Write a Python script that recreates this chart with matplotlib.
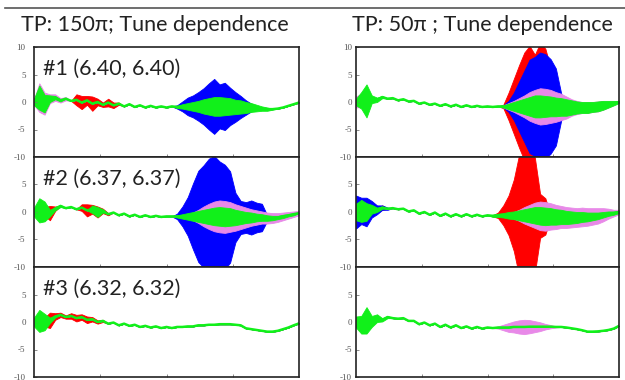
import matplotlib.pyplot as plt
import numpy as np
from matplotlib.lines import Line2D

# position along the run (% of full length), one sample every 2 %
pos = np.arange(0, 101, 2)

titles = ['TP: 150\u03c0; Tune dependence', 'TP: 50\u03c0 ; Tune dependence']
labels = ['#1 (6.40, 6.40)', '#2 (6.37, 6.37)', '#3 (6.32, 6.32)']

# ---- centre lines (51 values, 0..100 %) ----
L1_centre = [0.0, 0.8, -0.3, 0.6, 0.8, 0.3, 0.6, 0.2, 0.4, -0.1,
             0.3, -0.3, 0.0, -0.5, -0.1, -0.6, -0.3, -0.8, -0.4, -0.9,
             -0.6, -1.0, -0.7, -1.0, -0.8, -1.0, -0.8, -0.9, -0.8, -0.8,
             -0.8, -0.8, -0.8, -0.8, -0.8, -0.8, -0.8, -0.8, -0.9, -0.9,
             -1.0, -1.0, -1.1, -1.2, -1.3, -1.3, -1.2, -1.0, -0.7, -0.4,
             -0.1]
L2_centre = [0.0, 0.3, 0.1, -0.2, 0.6, 1.1, 0.7, 0.9, 0.5, 0.8,
             0.3, 0.5, 0.0, 0.2, -0.4, -0.1, -0.6, -0.3, -0.8, -0.5,
             -0.9, -0.6, -0.9, -0.7, -0.9, -0.8, -0.8, -0.8, -0.8, -0.8,
             -0.8, -0.8, -0.8, -0.8, -0.8, -0.8, -0.9, -0.9, -1.0, -1.0,
             -1.0, -1.0, -1.0, -1.0, -1.1, -1.1, -1.0, -0.8, -0.6, -0.4,
             -0.2]
L3_centre = [0.0, 0.2, 0.0, 0.3, 1.0, 1.3, 0.9, 1.1, 0.7, 0.9,
             0.4, 0.5, 0.0, 0.2, -0.3, -0.1, -0.6, -0.3, -0.7, -0.5,
             -0.9, -0.7, -1.0, -0.8, -1.1, -0.9, -1.1, -0.9, -0.9, -0.8,
             -0.8, -0.6, -0.6, -0.5, -0.5, -0.4, -0.4, -0.4, -0.5, -0.6,
             -1.15, -1.3, -1.45, -1.6, -1.75, -1.75, -1.6, -1.3, -1.0, -0.6,
             -0.25]
R1_centre = [0.0, 0.3, 0.2, 0.5, 0.4, 0.9, 0.6, 0.7, 0.3, 0.5,
             0.1, 0.2, -0.3, -0.1, -0.5, -0.3, -0.7, -0.4, -0.8, -0.5,
             -0.9, -0.6, -0.9, -0.7, -0.9, -0.8, -0.9, -0.8, -0.8, -0.8,
             -0.8, -0.8, -0.8, -0.8, -0.8, -0.8, -0.8, -0.8, -0.9, -0.9,
             -1.0, -1.0, -1.0, -1.0, -1.0, -0.9, -0.8, -0.6, -0.4, -0.2,
             0.0]
R2_centre = [0.0, 0.2, 0.0, 0.5, 0.4, 0.8, 0.6, 0.7, 0.5, 0.6,
             0.1, 0.3, -0.3, 0.0, -0.5, -0.1, -0.7, -0.3, -0.8, -0.4,
             -0.8, -0.4, -0.8, -0.5, -0.8, -0.6, -0.7, -0.6, -0.6, -0.6,
             -0.6, -0.6, -0.6, -0.6, -0.6, -0.7, -0.8, -0.8, -0.9, -0.9,
             -1.0, -1.0, -1.0, -0.9, -0.9, -0.8, -0.7, -0.5, -0.3, -0.2,
             0.0]
R3_centre = [0.0, -0.5, 0.3, 0.1, 0.7, 0.4, 0.9, 0.7, 0.6, 0.7,
             0.2, 0.2, -0.4, -0.1, -0.6, -0.3, -0.9, -0.5, -1.0, -0.6,
             -1.1, -0.8, -1.2, -0.9, -1.2, -1.0, -1.1, -1.0, -1.0, -1.0,
             -0.9, -0.9, -0.9, -0.85, -0.85, -0.85, -0.85, -0.85, -0.9, -0.9,
             -1.0, -1.15, -1.3, -1.5, -1.75, -1.75, -1.7, -1.6, -1.45, -1.2,
             -0.7]

# ---- half widths of the oscillation envelopes ({position %: half width}) ----
L1_red = {2: 1.2, 4: 1.0, 6: 0.3, 16: 1.0, 18: 1.2, 20: 0.8, 22: 1.3, 24: 0.6,
          26: 0.4, 28: 0.7, 30: 0.5, 32: 0.2, 56: 0.6, 58: 1.0, 60: 1.4, 62: 1.8,
          64: 2.3, 66: 2.9, 68: 3.5, 70: 2.8, 72: 3.0, 74: 2.4, 76: 1.9, 78: 1.4,
          80: 0.9, 82: 0.5, 84: 0.2}
L1_blue = {54: 0.3, 56: 0.9, 58: 1.6, 60: 2.0, 62: 2.6, 64: 3.3, 66: 4.2, 68: 5.0,
           70: 4.0, 72: 4.3, 74: 3.4, 76: 2.7, 78: 2.0, 80: 1.3, 82: 0.7, 84: 0.4,
           86: 0.1}
L1_violet = {0: 0.5, 2: 2.6, 4: 2.0, 6: 0.8, 8: 0.6, 10: 0.4, 12: 0.3}
L1_green = {0: 0.6, 2: 2.2, 4: 1.6, 6: 0.6, 8: 0.3, 10: 0.2, 54: 0.2, 56: 0.4,
            58: 0.6, 60: 0.8, 62: 1.0, 64: 1.3, 66: 1.5, 68: 1.7, 70: 1.7, 72: 1.6,
            74: 1.5, 76: 1.3, 78: 1.2, 80: 1.0, 82: 0.8, 84: 0.6, 86: 0.4, 88: 0.3,
            90: 0.1}

L2_red = {4: 0.8, 6: 1.3, 8: 0.4, 18: 0.6, 20: 1.1, 22: 0.8, 24: 1.0, 26: 0.4,
          28: 0.2, 60: 4.0, 64: 7.0, 68: 8.0, 72: 7.0, 76: 3.0, 80: 2.0, 84: 2.0,
          86: 1.5}
L2_blue = {0: 0.4, 2: 0.8, 54: 0.5, 56: 1.8, 58: 3.5, 60: 6.0, 62: 8.3, 64: 9.3,
           66: 10.5, 68: 11.0, 70: 10.0, 72: 9.5, 74: 8.3, 76: 4.5, 78: 3.0,
           80: 2.8, 82: 3.1, 84: 2.7, 86: 2.5, 88: 0.5}
L2_violet = {58: 0.3, 60: 0.7, 62: 1.2, 64: 1.8, 66: 2.3, 68: 2.7, 70: 2.9, 72: 2.9,
             74: 2.7, 76: 2.4, 78: 2.1, 80: 1.8, 82: 1.5, 84: 1.3, 86: 1.1, 88: 1.0,
             90: 0.9, 92: 0.8, 94: 0.7, 96: 0.6, 98: 0.5, 100: 0.4}
L2_green = {0: 0.8, 2: 2.2, 4: 1.8, 6: 0.6, 8: 0.3, 10: 0.2, 22: 0.7, 24: 0.9,
            26: 0.3, 54: 0.2, 56: 0.4, 58: 0.6, 60: 0.8, 62: 1.0, 64: 1.2, 66: 1.4,
            68: 1.6, 70: 1.7, 72: 1.7, 74: 1.6, 76: 1.4, 78: 1.2, 80: 1.0, 82: 0.9,
            84: 0.7, 86: 0.6, 88: 0.5, 90: 0.4, 92: 0.3, 94: 0.3, 96: 0.2, 98: 0.2}

L3_red = {4: 0.8, 6: 1.4, 8: 0.6, 10: 0.4, 12: 0.3, 14: 0.5, 16: 0.6, 18: 0.5,
          20: 0.6, 22: 0.4, 24: 0.3, 26: 0.2}
L3_blue = {0: 0.5, 2: 1.0, 4: 0.6}
L3_violet = {2: 0.6}
L3_green = {0: 0.8, 2: 2.0, 4: 1.5, 6: 0.5, 8: 0.2}

R1_red = {56: 0.3, 58: 2.5, 60: 5.0, 62: 7.5, 64: 9.8, 66: 11.0, 68: 9.4, 70: 11.5,
          72: 10.5, 74: 7.0, 76: 4.5, 78: 1.5, 80: 0.3}
R1_blue = {0: 0.5, 56: 0.2, 58: 1.0, 60: 2.5, 62: 4.5, 64: 6.5, 66: 8.5, 68: 9.0,
           70: 9.8, 72: 9.5, 74: 8.6, 76: 7.0, 78: 2.5, 80: 0.3}
R1_violet = {0: 1.0, 2: 1.2, 56: 0.2, 58: 0.6, 60: 1.0, 62: 1.5, 64: 2.0, 66: 2.6,
             68: 3.0, 70: 3.3, 72: 3.2, 74: 3.0, 76: 2.7, 78: 2.4, 80: 2.0, 82: 1.5,
             84: 1.2, 86: 1.0, 88: 1.0, 90: 0.9, 92: 0.9, 94: 0.8, 96: 0.6, 98: 0.4}
R1_green = {0: 0.6, 2: 1.5, 4: 3.0, 6: 0.7, 8: 0.4, 10: 0.2, 56: 0.2, 58: 0.5,
            60: 0.8, 62: 1.1, 64: 1.4, 66: 1.7, 68: 2.0, 70: 2.0, 72: 1.9, 74: 1.8,
            76: 1.7, 78: 1.6, 80: 1.5, 82: 1.3, 84: 1.1, 86: 1.0, 88: 1.0, 90: 0.9,
            92: 0.9, 94: 0.8, 96: 0.6, 98: 0.4, 100: 0.2}

R2_red = {8: 0.4, 10: 0.4, 52: 0.1, 54: 0.5, 56: 1.8, 58: 3.6, 60: 6.5, 62: 11.0,
          64: 12.0, 66: 12.0, 68: 10.5, 70: 4.0, 72: 3.3, 74: 0.2}
R2_blue = {0: 3.0, 2: 2.4, 4: 2.6, 6: 1.5, 8: 0.8, 10: 0.4, 12: 0.2}
R2_violet = {60: 0.6, 62: 1.0, 64: 1.5, 66: 1.9, 68: 2.3, 70: 2.6, 72: 2.6, 74: 2.4,
             76: 2.2, 78: 2.0, 80: 1.9, 82: 1.8, 84: 1.7, 86: 1.7, 88: 1.6, 90: 1.5,
             92: 1.4, 94: 1.2, 96: 0.9, 98: 0.6, 100: 0.4}
R2_green = {0: 1.5, 2: 2.0, 4: 1.6, 6: 0.8, 8: 0.4, 10: 0.2, 52: 0.2, 54: 0.3,
            56: 0.4, 58: 0.6, 60: 0.7, 62: 0.9, 64: 1.1, 66: 1.3, 68: 1.5, 70: 1.6,
            72: 1.6, 74: 1.5, 76: 1.4, 78: 1.3, 80: 1.2, 82: 1.1, 84: 1.0, 86: 0.9,
            88: 0.8, 90: 0.7, 92: 0.6, 94: 0.5, 96: 0.4, 98: 0.3, 100: 0.2}

R3_red = {0: 0.8, 2: 1.0}
R3_blue = {2: 0.6}
R3_violet = {54: 0.2, 56: 0.5, 58: 0.8, 60: 1.0, 62: 1.2, 64: 1.3, 66: 1.2, 68: 1.0,
             70: 0.8, 72: 0.5, 74: 0.3, 76: 0.1}
R3_green = {0: 1.0, 2: 1.6, 4: 2.4, 6: 1.0, 8: 0.7, 10: 0.3, 12: 0.2}

panels = [
    [(L1_centre, L1_red, L1_blue, L1_violet, L1_green),
     (L2_centre, L2_red, L2_blue, L2_violet, L2_green),
     (L3_centre, L3_red, L3_blue, L3_violet, L3_green)],
    [(R1_centre, R1_red, R1_blue, R1_violet, R1_green),
     (R2_centre, R2_red, R2_blue, R2_violet, R2_green),
     (R3_centre, R3_red, R3_blue, R3_violet, R3_green)],
]
colors = ['#ff0000', '#0000ff', '#e889e8', '#11f01a']


def env(points):
    hw = np.zeros(len(pos))
    for k, v in points.items():
        hw[k // 2] = v
    return hw


fig = plt.figure(figsize=(6.25, 3.8), dpi=100)
W, H = 625.0, 380.0
col_x = [(34, 265), (356, 263)]
row_y = [47, 157, 267]

for c in range(2):
    for r in range(3):
        x0, w = col_x[c]
        ax = fig.add_axes([x0 / W, 1 - (row_y[r] + 110) / H, w / W, 110 / H])
        centre = np.array(panels[c][r][0])
        for hw_pts, col in zip(panels[c][r][1:], colors):
            hw = env(hw_pts)
            ax.fill_between(pos, centre - hw, centre + hw, facecolor=col,
                            edgecolor=col, lw=0.6)
        # the thin trace itself (green is drawn last and sits on top)
        ax.plot(pos, centre, color=colors[-1], lw=1.8, solid_joinstyle='round')
        ax.set_xlim(0, 100)
        ax.set_ylim(-10, 10)
        ax.set_xticks([25, 50, 75])
        ax.set_xticklabels([])
        ticks = [10, 5, 0, -5, -10] if r == 0 else [5, 0, -5, -10]
        ax.set_yticks(ticks)
        ax.set_yticklabels([str(t) for t in ticks], family='Liberation Serif',
                           fontsize=6.5, color='#555555')
        ax.tick_params(direction='in', length=2.5, width=0.6, color='#777777',
                       pad=6 if c == 0 else 3)
        for s in ax.spines.values():
            s.set_color('#222222')
            s.set_linewidth(1.2)
        if c == 0:
            ax.text(0.034, 0.745, labels[r], transform=ax.transAxes,
                    family='Lato', fontsize=15.5, color='#222222', va='baseline')

fig.text(21 / W, 1 - 31 / H, titles[0], family='Lato', fontsize=15.5,
         color='#222222', va='baseline')
fig.text(352 / W, 1 - 31 / H, titles[1], family='Lato', fontsize=15.5,
         color='#222222', va='baseline')
fig.add_artist(Line2D([5 / W, 1], [1 - 8 / H, 1 - 8 / H], color='#555555', lw=1.2))

fig.savefig('out.png', dpi=100)
